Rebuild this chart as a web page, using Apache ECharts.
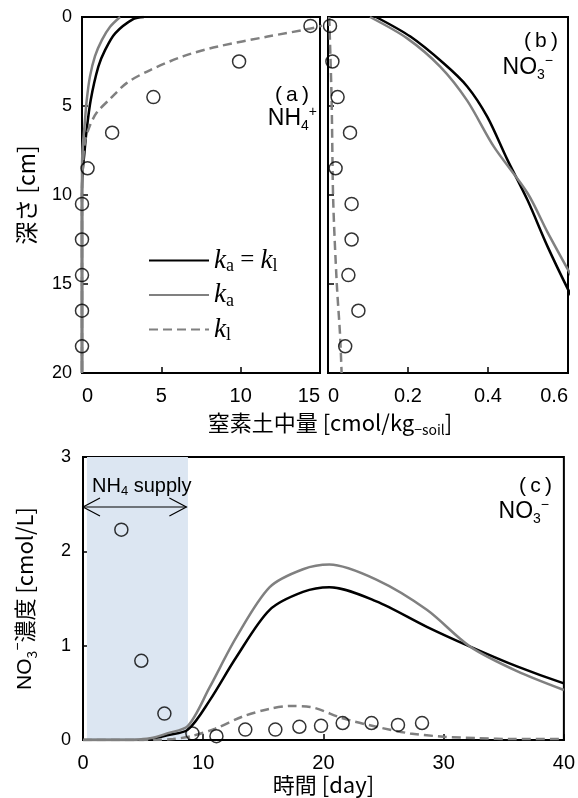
<!DOCTYPE html>
<html>
<head>
<meta charset="utf-8">
<script src="https://cdn.jsdelivr.net/npm/echarts@6/dist/echarts.min.js"></script>
<style>
html,body{margin:0;padding:0;background:#fff}
#main{width:578px;height:798px}
</style>
</head>
<body>
<div id="main"></div>
<script>
// observed profiles (a),(b)
var depthObs = [0.5, 2.5, 4.5, 6.5, 8.5, 10.5, 12.5, 14.5, 16.5, 18.5]
var nh4Obs = [14.4, 9.9, 4.5, 1.9, 0.35, 0, 0, 0, 0, 0]
var no3Obs = [0.005, 0.011, 0.024, 0.055, 0.019, 0.059, 0.059, 0.051, 0.076, 0.043]

// simulated NH4+ profiles [amount, depth]
var nh4Both = [[3.9,0],[3.25,0.11],[2.09,0.92],[1.46,1.85],[1.03,2.79],[0.55,4.66],[0.27,6.53],[0.15,7.66],[0.03,8.8],[0,10],[0,20]]
var nh4Ka = [[2.4,0],[1.77,0.55],[1.25,1.3],[0.82,2.2],[0.5,3.35],[0.3,4.66],[0.15,6.2],[0.03,7.5],[0,8.8],[0,20]]
var nh4Kl = [[15.5,0.4],[14.4,0.65],[11.7,1.1],[8.5,1.67],[6.4,2.2],[4.3,2.98],[2.83,3.7],[1.77,4.6],[0.93,5.37],[0.5,6.1],[0.19,7.0],[0.05,8.5],[0,10],[0,20]]

// simulated NO3- profiles [amount, depth]
var no3Both = [[0.12,0],[0.206,1.1],[0.289,2.6],[0.348,3.9],[0.398,5.6],[0.448,8.0],[0.499,10.3],[0.549,12.9],[0.6,15.3],[0.65,17.5]]
var no3Ka = [[0.105,0],[0.198,1.2],[0.281,2.8],[0.348,4.7],[0.415,7.3],[0.499,9.9],[0.549,12.1],[0.6,14.2],[0.65,16.3]]
var no3Kl = [[0.003,0],[0.009,4.6],[0.013,10.3],[0.022,15],[0.03,17.8],[0.034,20]]

// (c) NO3- concentration vs time
var timeObs = [3.19, 4.85, 6.77, 9.1, 11.1, 13.5, 16.0, 18.0, 19.8, 21.6, 24.0, 26.2, 28.2]
var concObs = [2.23, 0.84, 0.28, 0.07, 0.04, 0.11, 0.11, 0.14, 0.15, 0.18, 0.18, 0.16, 0.18]
var concBoth = [[0,0],[5,0],[6,0.02],[7,0.05],[8.73,0.11],[10.54,0.42],[12.76,0.88],[15.53,1.38],[18.3,1.57],[20.5,1.62],[24.4,1.47],[28.6,1.2],[32.2,0.99],[36.1,0.78],[40,0.6]]
var concKa = [[0,0],[4,0],[5,0.01],[6,0.03],[7,0.07],[8.73,0.15],[10.54,0.56],[12.76,1.09],[15.53,1.62],[18.3,1.81],[20.5,1.86],[24.4,1.7],[28.6,1.38],[32.2,0.99],[36.1,0.73],[40,0.53]]
var concKl = [[0,0],[6,0],[7.5,0.01],[9,0.04],[11,0.12],[13.3,0.25],[15.5,0.33],[17.2,0.36],[18.9,0.35],[21.6,0.23],[24.4,0.14],[27.2,0.07],[30,0.035],[32.8,0.02],[36,0.01],[40,0.01]]

var supplyStart = 0.33
var supplyEnd = 8.73
var arrowSpan = [[0, 8.6, 2.47]]

var SANS = 'Liberation Sans'
var JP = 'Noto Sans CJK JP'

// panel labels NH4+, NO3-
var chem = {
  n: {fontSize: 23, fontFamily: SANS, color: '#000', lineHeight: 28},
  sb: {fontSize: 14, fontFamily: SANS, color: '#000', verticalAlign: 'bottom'},
  sp: {fontSize: 14, fontFamily: SANS, color: '#000', verticalAlign: 'top'}
}
// "NH4 supply"
var note = {
  m: {fontSize: 20, fontFamily: SANS, color: '#000', lineHeight: 24},
  mb: {fontSize: 13, fontFamily: SANS, color: '#000', verticalAlign: 'bottom'}
}
// axis names
var names = {
  j: {fontSize: 22, fontFamily: JP, color: '#000', lineHeight: 28},
  n: {fontSize: 21, fontFamily: SANS, color: '#000', lineHeight: 28},
  sb: {fontSize: 14, fontFamily: JP, color: '#000', verticalAlign: 'bottom'},
  sp: {fontSize: 14, fontFamily: SANS, color: '#000', verticalAlign: 'top'}
}

function axisBase(extra) {
  var a = {
    type: 'value',
    axisLine: {show: true, onZero: false, lineStyle: {color: '#000', width: 2}},
    axisTick: {show: true, inside: true, length: 6, lineStyle: {color: '#000', width: 1.5}},
    splitLine: {show: false},
    axisLabel: {color: '#000', fontSize: 18, fontFamily: SANS}
  }
  for (var k in extra) {
    if (k === 'axisLabel') Object.assign(a.axisLabel, extra[k])
    else a[k] = extra[k]
  }
  return a
}

function lineSeries(name, data, xi, color, dashed) {
  return {
    name: name, type: 'line', xAxisIndex: xi, yAxisIndex: xi,
    data: data, symbol: 'none', smooth: 0.3, z: 2,
    itemStyle: {color: color},
    lineStyle: {color: color, width: 2.5, type: dashed ? [9, 5] : 'solid'}
  }
}

function obsSeries(data, xi) {
  return {
    name: 'obs', type: 'scatter', xAxisIndex: xi, yAxisIndex: xi,
    data: data, symbol: 'circle', symbolSize: 13, clip: false, z: 4,
    itemStyle: {color: 'rgba(0,0,0,0)', borderColor: '#000', borderWidth: 1.5}
  }
}

var legendNames = {
  kakl: '{k|k}{s|a}{e| = }{k|k}{s|l}',
  ka: '{k|k}{s|a}',
  kl: '{k|k}{s|l}'
}

var chart = echarts.init(document.getElementById('main'))

var option = {
  backgroundColor: '#fff',
  animation: false,
  grid: [
    {left: 82, top: 17, width: 238, height: 356, show: true, borderColor: '#000', borderWidth: 2},
    {left: 328, top: 17, width: 240, height: 356, show: true, borderColor: '#000', borderWidth: 2},
    {left: 83, top: 457, width: 481, height: 283, show: true, borderColor: '#000', borderWidth: 2}
  ],
  xAxis: [
    axisBase({gridIndex: 0, min: 0, max: 15, interval: 5,
      axisLabel: {fontSize: 20, margin: 13, alignMinLabel: 'left', alignMaxLabel: 'right'}}),
    axisBase({gridIndex: 1, min: 0, max: 0.6, interval: 0.2,
      axisLabel: {fontSize: 20, margin: 13, alignMinLabel: 'left', alignMaxLabel: 'right'}}),
    axisBase({gridIndex: 2, min: 0, max: 40, interval: 10,
      axisLabel: {fontSize: 20, margin: 13},
      name: '時間 [day]', nameLocation: 'middle', nameGap: 33,
      nameTextStyle: {fontSize: 22, fontFamily: JP, color: '#000'}})
  ],
  yAxis: [
    axisBase({gridIndex: 0, min: 0, max: 20, interval: 5, inverse: true,
      axisLabel: {margin: 10},
      name: '深さ [cm]', nameLocation: 'middle', nameGap: 44,
      nameTextStyle: {fontSize: 23, fontFamily: JP, color: '#000'}}),
    axisBase({gridIndex: 1, min: 0, max: 20, interval: 5, inverse: true,
      axisLabel: {show: false}}),
    axisBase({gridIndex: 2, min: 0, max: 3, interval: 1,
      axisLabel: {margin: 12},
      name: '{n|NO}{sb|3}{sp|−}{j|濃度 [cmol/L]}', nameLocation: 'middle', nameGap: 44,
      nameTextStyle: {rich: names}})
  ],
  legend: {
    data: ['kakl', 'ka', 'kl'],
    orient: 'vertical', left: 143, top: 242,
    itemWidth: 60, itemHeight: 14, itemGap: 6,
    selectedMode: false,
    itemStyle: {color: 'rgba(0,0,0,0)', borderWidth: 0, opacity: 0},
    formatter: function (name) { return legendNames[name] },
    textStyle: {
      rich: {
        k: {fontSize: 27, fontFamily: 'Liberation Serif', fontStyle: 'italic', color: '#000', lineHeight: 30},
        s: {fontSize: 18, fontFamily: 'Liberation Serif', color: '#000', verticalAlign: 'bottom'},
        e: {fontSize: 25, fontFamily: 'Liberation Serif', color: '#000', lineHeight: 30}
      }
    }
  },
  series: [
    lineSeries('kakl', nh4Both, 0, '#000', false),
    lineSeries('ka', nh4Ka, 0, '#808080', false),
    lineSeries('kl', nh4Kl, 0, '#808080', true),
    obsSeries(depthObs.map(function (d, i) { return [nh4Obs[i], d] }), 0),

    lineSeries('kakl', no3Both, 1, '#000', false),
    lineSeries('ka', no3Ka, 1, '#808080', false),
    lineSeries('kl', no3Kl, 1, '#808080', true),
    obsSeries(depthObs.map(function (d, i) { return [no3Obs[i], d] }), 1),

    {
      name: 'supply', type: 'line', xAxisIndex: 2, yAxisIndex: 2, data: [], z: 0,
      markArea: {
        silent: true,
        itemStyle: {color: '#dce6f2'},
        data: [[{xAxis: supplyStart}, {xAxis: supplyEnd}]]
      }
    },
    lineSeries('kakl', concBoth, 2, '#000', false),
    lineSeries('ka', concKa, 2, '#808080', false),
    lineSeries('kl', concKl, 2, '#808080', true),
    obsSeries(timeObs.map(function (t, i) { return [t, concObs[i]] }), 2),
    {
      name: 'arrow', type: 'custom', xAxisIndex: 2, yAxisIndex: 2, z: 3, clip: false,
      encode: {x: [0, 1], y: 2},
      data: arrowSpan,
      renderItem: function (params, api) {
        var p0 = api.coord([api.value(0), api.value(2)])
        var p1 = api.coord([api.value(1), api.value(2)])
        var w = 17, h = 9
        var st = {stroke: '#000', fill: null, lineWidth: 1.2}
        return {
          type: 'group',
          children: [
            {type: 'line', shape: {x1: p0[0], y1: p0[1], x2: p1[0], y2: p1[1]}, style: st},
            {type: 'polyline', shape: {points: [[p0[0] + w, p0[1] - h], [p0[0], p0[1]], [p0[0] + w, p0[1] + h]]}, style: st},
            {type: 'polyline', shape: {points: [[p1[0] - w, p1[1] - h], [p1[0], p1[1]], [p1[0] - w, p1[1] + h]]}, style: st},
            {type: 'text', x: p0[0] + 9, y: p0[1] - 21,
              style: {text: '{m|NH}{mb|4}{m| supply}', rich: note, verticalAlign: 'middle', align: 'left'}}
          ]
        }
      }
    }
  ],
  graphic: [
    {type: 'text', x: 309, y: 95, style: {text: '(\u2009a\u2009)', font: '21px Liberation Sans', fill: '#000', align: 'right', verticalAlign: 'middle'}},
    {type: 'text', x: 317, y: 119, style: {text: '{n|NH}{sb|4}{sp|+}', rich: chem, align: 'right', verticalAlign: 'middle'}},
    {type: 'text', x: 558, y: 41, style: {text: '(\u2009b\u2009)', font: '21px Liberation Sans', fill: '#000', align: 'right', verticalAlign: 'middle'}},
    {type: 'text', x: 553, y: 68, style: {text: '{n|NO}{sb|3}{sp|−}', rich: chem, align: 'right', verticalAlign: 'middle'}},
    {type: 'text', x: 552, y: 486, style: {text: '(\u2009c\u2009)', font: '21px Liberation Sans', fill: '#000', align: 'right', verticalAlign: 'middle'}},
    {type: 'text', x: 549, y: 512, style: {text: '{n|NO}{sb|3}{sp|−}', rich: chem, align: 'right', verticalAlign: 'middle'}},
    {type: 'text', x: 330, y: 423, style: {text: '{j|窒素土中量 [cmol/kg}{sb|−soil}{j|]}', rich: names, align: 'center', verticalAlign: 'middle'}}
  ]
}

chart.setOption(option)
</script>
</body>
</html>
